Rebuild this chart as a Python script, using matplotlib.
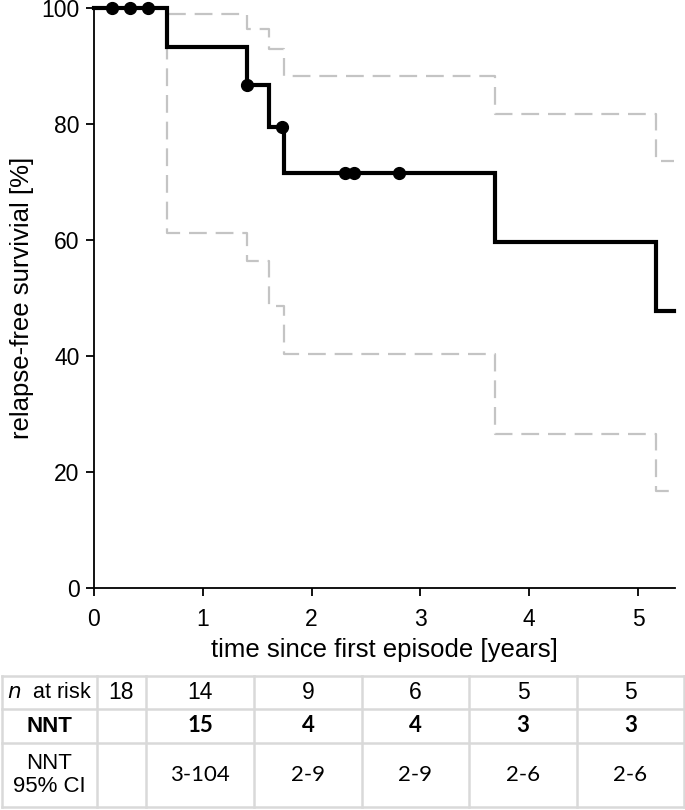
import matplotlib
matplotlib.use("Agg")
import matplotlib.pyplot as plt
from matplotlib.lines import Line2D

plt.rcParams['font.family'] = ['Liberation Sans', 'DejaVu Sans']

# ---- data ----
step_times = [0.0, 0.67, 1.405, 1.61, 1.745, 3.69, 5.17]
end_time = 5.33
survival = [100.0, 93.3, 86.7, 79.4, 71.5, 59.6, 47.7]
upper_ci = [100.0, 98.9, 96.4, 92.9, 88.3, 81.7, 73.7]
lower_ci = [100.0, 61.2, 56.4, 48.7, 40.4, 26.6, 16.7]
censor_times = [0.17, 0.33, 0.50, 1.41, 1.728, 2.307, 2.387, 2.80]

xticks = [0, 1, 2, 3, 4, 5]
yticks = [0, 20, 40, 60, 80, 100]

row_labels = ["$\\it{n}$  at risk", "NNT", "NNT\n95% CI"]
n_at_risk = ["18", "14", "9", "6", "5", "5"]
nnt = ["", "15", "4", "4", "3", "3"]
nnt_ci = ["", "3-104", "2-9", "2-9", "2-6", "2-6"]


def surv_at(t):
    val = survival[0]
    for st, sv in zip(step_times, survival):
        if t >= st:
            val = sv
    return val


W, H = 685, 810
fig = plt.figure(figsize=(W / 100, H / 100), dpi=100)
ax = fig.add_axes([94 / W, 1 - 588 / H, (675 - 94) / W, (588 - 8) / H])

xs = step_times + [end_time]
ax.step(xs, upper_ci + [upper_ci[-1]], where='post', color='#c4c4c4', lw=1.6,
        dashes=(8, 4), clip_on=False, zorder=2)
ax.step(xs, lower_ci + [lower_ci[-1]], where='post', color='#c4c4c4', lw=1.6,
        dashes=(8, 4), clip_on=False, zorder=2)
ax.step(xs, survival + [survival[-1]], where='post', color='black', lw=3,
        clip_on=False, zorder=3, solid_joinstyle='miter')
ax.plot(censor_times, [surv_at(t) for t in censor_times], 'o', color='black',
        ms=8.5, clip_on=False, zorder=4)

ax.set_xlim(0, 581 / 108.8)
ax.set_ylim(0, 100)
ax.set_xticks(xticks)
ax.set_yticks(yticks)
ax.spines['top'].set_visible(False)
ax.spines['right'].set_visible(False)
for s in ('left', 'bottom'):
    ax.spines[s].set_linewidth(1.3)
ax.tick_params(axis='both', direction='out', length=5.5, width=1.3,
               labelsize=16.5)
ax.tick_params(axis='x', pad=9)
ax.tick_params(axis='y', pad=5)
ax.set_xlabel("time since first episode [years]", fontsize=18.5, labelpad=5)
ax.set_ylabel("relapse-free survivial [%]", fontsize=18.5, labelpad=5)

# ---- table ----
tax = fig.add_axes([0, 0, 1, 1])
tax.set_xlim(0, W)
tax.set_ylim(H, 0)
tax.axis('off')
col_edges = [2, 97, 146, 254, 362, 469, 577, 684]
row_edges = [676, 709, 743, 807]
gc = '#d9d9d9'
for x in col_edges:
    tax.add_line(Line2D([x, x], [row_edges[0], row_edges[-1]], color=gc, lw=1.8))
for y in row_edges:
    tax.add_line(Line2D([col_edges[0], col_edges[-1]], [y, y], color=gc, lw=1.8))

row_centers = [(row_edges[i] + row_edges[i + 1]) / 2 for i in range(3)]
col_centers = [(col_edges[i] + col_edges[i + 1]) / 2 for i in range(len(col_edges) - 1)]

tax.text(col_centers[0], row_centers[0], row_labels[0], ha='center', va='center',
         fontsize=15.5)
tax.text(col_centers[0], row_centers[1], row_labels[1], ha='center', va='center',
         fontsize=16, fontweight='bold')
tax.text(col_centers[0], row_centers[2], row_labels[2], ha='center', va='center',
         fontsize=16, linespacing=1.15)
for i, v in enumerate(n_at_risk):
    tax.text(col_centers[i + 1], row_centers[0], v, ha='center', va='center', fontsize=16.5)
for i, v in enumerate(nnt):
    tax.text(col_centers[i + 1], row_centers[1], v, ha='center', va='center',
             fontsize=16, fontweight='bold', family=['Lato', 'DejaVu Sans'])
for i, v in enumerate(nnt_ci):
    tax.text(col_centers[i + 1], row_centers[2], v, ha='center', va='center',
             fontsize=16, family=['Lato', 'DejaVu Sans'])

fig.savefig("out.png", dpi=100)
